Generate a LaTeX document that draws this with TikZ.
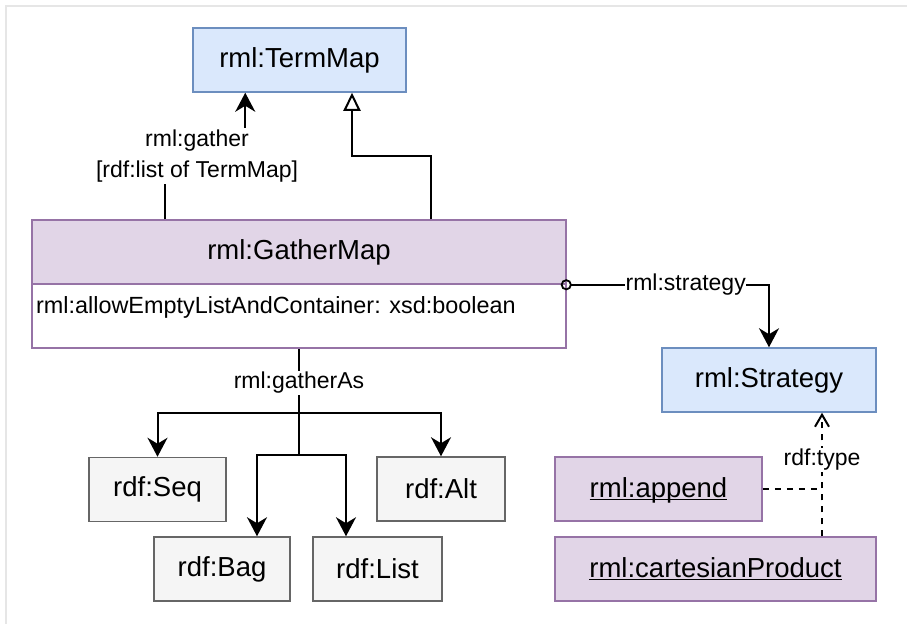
\documentclass[tikz,border=0pt]{standalone}
\usepackage{fontspec}
\setmainfont{Liberation Sans}
\usepackage{tikz}
\usetikzlibrary{arrows.meta, positioning, calc}
\definecolor{myblue}{RGB}{218,232,252}
\definecolor{mybluedark}{RGB}{108,142,191}
\definecolor{mypurple}{RGB}{225,213,231}
\definecolor{mypurpledark}{RGB}{150,115,166}
\definecolor{mygray}{RGB}{245,245,245}
\definecolor{mygraydark}{RGB}{102,102,102}
\definecolor{myframe}{RGB}{230,230,230}
\newcommand{\ulabel}[1]{\underline{\vphantom{X}\smash{#1}}}
\tikzset{
  box/.style={rectangle, line width=1.5pt, minimum height=64pt, inner sep=0pt, font=\fontsize{27.5}{33}\selectfont},
  bluebox/.style={box, draw=mybluedark, fill=myblue},
  purplebox/.style={box, draw=mypurpledark, fill=mypurple},
  graybox/.style={box, draw=mygraydark, fill=mygray},
  attrbox/.style={box, draw=mypurpledark, fill=white},
  attr/.style={inner sep=0pt, font=\fontsize{23.4}{28}\selectfont},
  lbl/.style={fill=white, inner sep=1.5pt, align=center, font=\fontsize{23}{31}\selectfont},
  line/.style={line width=2pt, color=black},
  tip/.style={-{Stealth[length=19pt, width=20pt, inset=6pt]}},
  arrow/.style={line, tip},
  inherit/.style={line, -{Triangle[open, length=18pt, width=17pt]}},
  typeline/.style={line, dash pattern=on 6pt off 6pt}
}

\begin{document}
\begin{tikzpicture}[x=1pt, y=-1pt]
  \useasboundingbox (0,0) rectangle (907,624);
  \draw[myframe, line width=1.5pt] (6,624) |- (907,6);

  % classes
  \node[bluebox, minimum width=213pt] (termmap) at (299.5,60) {rml:TermMap};
  \node[purplebox, minimum width=534pt] (gmhead) at (299,252) {rml:GatherMap};
  \node[attrbox, minimum width=534pt] (gmbody) at (299,316) {};
  \node[attr, anchor=west] (allow) at (36,307) {rml:allowEmptyListAndContainer: xsd:boolean};
  \node[bluebox, minimum width=214pt] (strategy) at (769,380) {rml:Strategy};

  % containers
  \node[graybox, minimum width=137pt] (seq) at (157.5,489.5) {rdf:Seq};
  \node[graybox, minimum width=128pt] (alt) at (441,489) {rdf:Alt};
  \node[graybox, minimum width=136pt] (bag) at (222,569) {rdf:Bag};
  \node[graybox, minimum width=129pt] (list) at (377.5,569) {rdf:List};

  % strategy instances
  \node[purplebox, minimum width=207pt] (append) at (658.5,489) {\ulabel{rml:append}};
  \node[purplebox, minimum width=321pt] (cartesian) at (715.5,569) {\ulabel{rml:cartesianProduct}};

  % rml:gather
  \coordinate (gatherbend) at (197,156);
  \draw[arrow] ($(gmhead.north west)+(134,0)$) |- (gatherbend) -| ($(termmap.south west)+(53,0)$);
  \node[lbl] (gatherlbl) at (gatherbend) {rml:gather\\{[}rdf:list of TermMap{]}};

  % subclass of TermMap
  \coordinate (genbend) at (352,156);
  \draw[inherit] ($(gmhead.north west)+(400,0)$) |- (genbend) -- (genbend |- termmap.south);

  % rml:strategy
  \draw[line, {Circle[open, length=11pt, width=11pt, line width=1.8pt]}-{Stealth[length=19pt, width=20pt, inset=6pt]}]
    ($(gmhead.south east)+(-6,0)$) -| (strategy.north)
    node[lbl, pos=0.3, inner sep=0.5pt] (stratlbl) {rml:strategy};

  % rml:gatherAs
  \coordinate (split1) at (299,413);
  \coordinate (split2) at (299,455);
  \draw[line] (gmbody.south) -- (split2);
  \node[lbl] (gatherAslbl) at (299,383) {rml:gatherAs};
  \draw[arrow] (split1) -| (seq.north);
  \draw[arrow] (split1) -| (alt.north);
  \draw[arrow] (split2) -| ($(bag.north)+(35,0)$);
  \draw[arrow] (split2) -| ($(list.north)+(-31.5,0)$);

  % rdf:type
  \coordinate (typex) at (822,489);
  \draw[typeline] (append.east) -- (typex);
  \draw[typeline, -{Straight Barb[length=12pt, width=14pt]}] (typex |- cartesian.north) -- (typex |- strategy.south);
  \node[lbl] (typelbl) at (822,460) {rdf:type};
\end{tikzpicture}
\end{document}
